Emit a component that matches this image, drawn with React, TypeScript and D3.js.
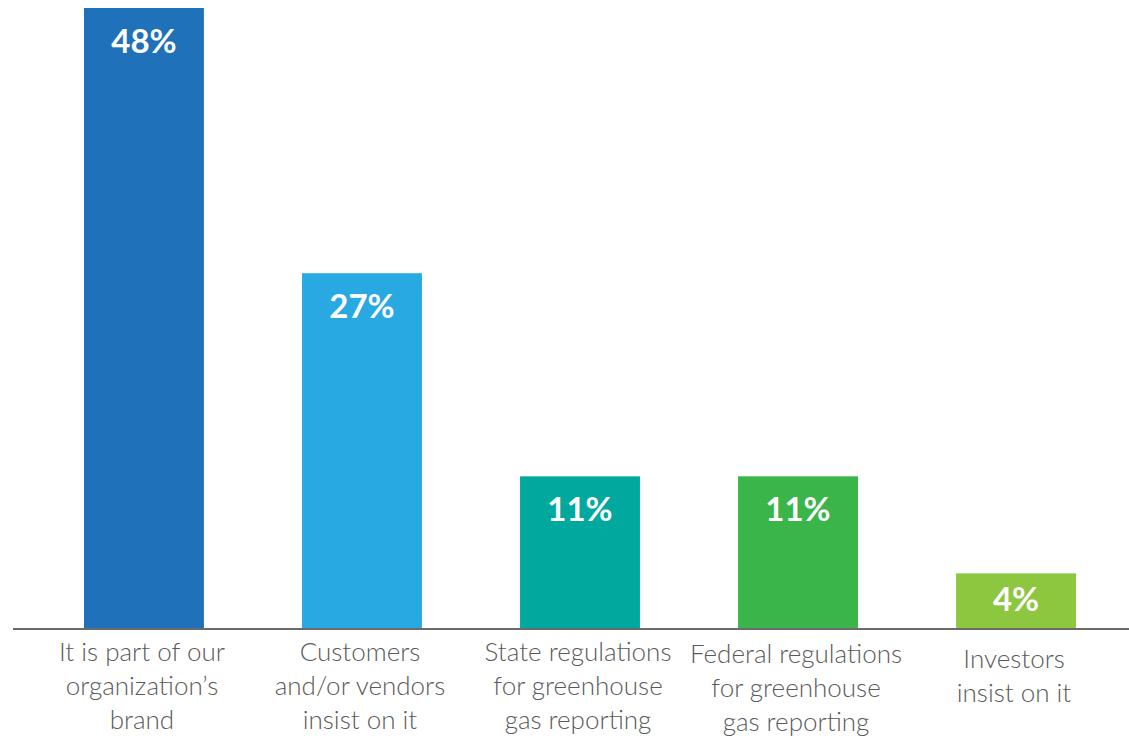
import React from "react";
import * as d3 from "d3";

const categories = [
  ["It is part of our", "organization’s", "brand"],
  ["Customers", "and/or vendors", "insist on it"],
  ["State regulations", "for greenhouse", "gas reporting"],
  ["Federal regulations", "for greenhouse", "gas reporting"],
  ["Investors", "insist on it"],
];
const values = [48, 27.5, 11.8, 11.8, 4.3];
const valueLabels = ["48%", "27%", "11%", "11%", "4%"];
const colors = ["#1F72BA", "#29A9E1", "#00A89D", "#3AB54A", "#8DC63F"];
const labelOffsets = [0, 0, 0, 2, 7];

const W = 1129;
const H = 738;
const baseY = 629;

export default function App() {
  const keys = categories.map((_, i) => String(i));
  const x = d3
    .scaleBand<string>()
    .domain(keys)
    .range([18.6, 1141.4])
    .paddingInner(0.45)
    .paddingOuter(0.3);
  const y = d3.scaleLinear().domain([0, 48]).range([baseY, 8]);

  return (
    <div style={{ position: "absolute", left: 0, top: 0 }}>
      <svg width={W} height={H} style={{ display: "block" }}>
        <rect x={0} y={0} width={W} height={H} fill="#fff" />
        {values.map((v, i) => {
          const bx = x(keys[i])!;
          const bw = x.bandwidth();
          const top = y(v);
          const ty = Math.min(top + 45, (top + baseY) / 2 + 10);
          return (
            <g key={i}>
              <rect x={bx} y={top} width={bw} height={baseY - top} fill={colors[i]} />
              <text
                x={bx + bw / 2}
                y={ty}
                textAnchor="middle"
                fill="#fff"
                fontFamily="Lato, 'Open Sans', sans-serif"
                fontWeight={700}
                fontSize={33}
              >
                {valueLabels[i]}
              </text>
              <text
                x={bx + bw / 2 - 2}
                y={661 + labelOffsets[i]}
                textAnchor="middle"
                fill="#5a5a5a"
                fontFamily="Lato, 'Open Sans', sans-serif"
                fontWeight={300}
                fontSize={26}
              >
                {categories[i].map((line, j) => (
                  <tspan key={j} x={bx + bw / 2 - 2} dy={j === 0 ? 0 : 34}>
                    {line}
                  </tspan>
                ))}
              </text>
            </g>
          );
        })}
        <line x1={13} x2={W} y1={baseY} y2={baseY} stroke="#6b6b6b" strokeWidth={2} />
      </svg>
    </div>
  );
}
